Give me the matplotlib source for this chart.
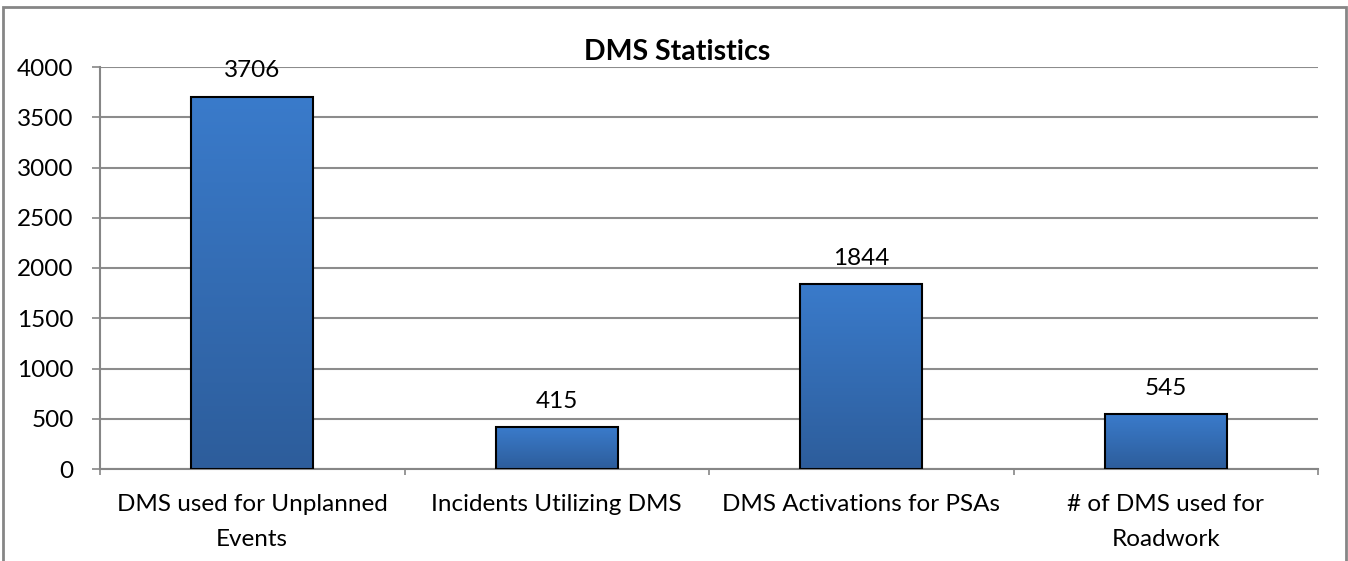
import matplotlib.pyplot as plt
import numpy as np
from matplotlib.colors import LinearSegmentedColormap
from matplotlib.patches import Rectangle

categories = ['DMS used for Unplanned\nEvents', 'Incidents Utilizing DMS',
              'DMS Activations for PSAs', '# of DMS used for\nRoadwork']
values = [3706, 415, 1844, 545]

plt.rcParams['font.family'] = ['Lato', 'DejaVu Sans']

fig = plt.figure(figsize=(13.48, 5.61), dpi=100)
ax = fig.add_axes([100 / 1348, 1 - 469 / 561, 1218 / 1348, 402 / 561])

# рамка вокруг всей картинки
fig.patches.append(Rectangle((3 / 1348, -0.05), 1343 / 1348, 1.05 - 7 / 561,
                             transform=fig.transFigure, fill=False,
                             edgecolor='#868686', linewidth=2))

x = np.arange(len(categories))
bars = ax.bar(x, values, width=0.4, color='none', edgecolor='black', linewidth=1.5, zorder=3)

grad = LinearSegmentedColormap.from_list('g', ['#2d5d9b', '#3a7bcb'])
for b in bars:
    x0, y0 = b.get_x(), b.get_y()
    w, h = b.get_width(), b.get_height()
    im = ax.imshow(np.linspace(0, 1, 256).reshape(-1, 1), cmap=grad, origin='lower',
                   extent=[x0, x0 + w, y0, y0 + h], aspect='auto', zorder=2)
    im.set_clip_path(b)

for xi, v in zip(x, values):
    ax.text(xi, v + 150, str(v), ha='center', va='bottom', fontsize=17.5)

ax.set_xlim(-0.5, len(categories) - 0.5)
ax.set_ylim(0, 4000)
ax.set_yticks(np.arange(0, 4001, 500))
ax.set_xticks(np.arange(-0.5, len(categories), 1.0))
ax.set_xticklabels([])
ax.set_xticks(x, minor=True)
ax.set_xticklabels(categories, minor=True, fontsize=17.5, linespacing=1.8)
ax.tick_params(axis='x', which='minor', length=0, pad=18)
ax.tick_params(axis='x', which='major', length=4, color='#868686', width=1.2)
ax.tick_params(axis='y', length=6, color='#868686', width=1.2, labelsize=17.5, pad=13)

ax.grid(axis='y', color='#8c8c8c', linewidth=1.5, zorder=0)
ax.set_axisbelow(True)
for s in ['top', 'right']:
    ax.spines[s].set_visible(False)
for s in ['left', 'bottom']:
    ax.spines[s].set_color('#868686')
    ax.spines[s].set_linewidth(1.5)

fig.text(677 / 1348, 1 - 52 / 561, 'DMS Statistics', ha='center', va='center',
         fontsize=20.5, fontweight='bold')

fig.savefig('out.png', dpi=100)
